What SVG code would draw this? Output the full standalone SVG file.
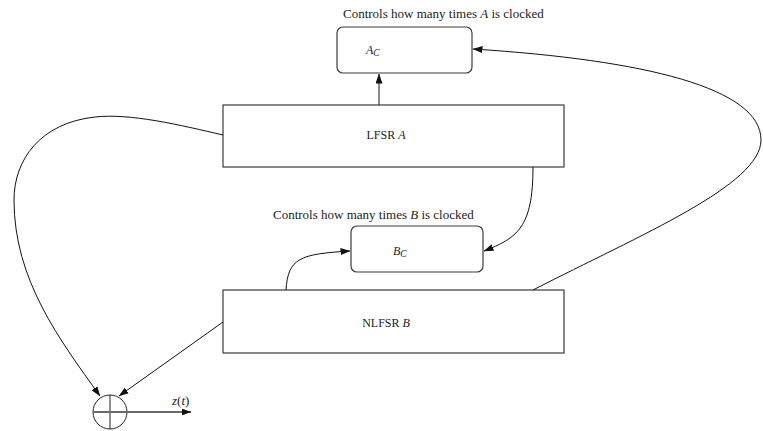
<svg xmlns="http://www.w3.org/2000/svg" width="763" height="431" viewBox="0 0 763 431">
  <style>
    .box { fill: #ffffff; stroke: #3a3a3a; stroke-width: 1.2; }
    .lbl { font-family: "Liberation Serif", "DejaVu Serif", serif; font-size: 12px; fill: #222222; }
    .cap { font-family: "Liberation Serif", "DejaVu Serif", serif; font-size: 13px; fill: #222222; }
    .it { font-style: italic; }
    .sub { font-size: 9.5px; font-style: italic; }
    .wire { fill: none; stroke: #111111; stroke-width: 1; }
  </style>
  <defs>
    <marker id="arrow" markerUnits="userSpaceOnUse" markerWidth="10" markerHeight="7" refX="9.5" refY="3.5" orient="auto">
      <path d="M0,0 L10,3.5 L0,7 Z" fill="#111111"/>
    </marker>
  </defs>

  <!-- captions -->
  <text class="cap" x="343" y="18">Controls how many times <tspan class="it">A</tspan> is clocked</text>
  <text class="cap" x="273" y="219">Controls how many times <tspan class="it">B</tspan> is clocked</text>

  <!-- A_C register -->
  <g id="node-ac">
    <rect class="box" x="337" y="27" width="135" height="46" rx="6" ry="6"/>
    <text class="lbl" x="366" y="54"><tspan class="it">A</tspan><tspan class="sub" dy="2">C</tspan></text>
  </g>

  <!-- LFSR A -->
  <g id="node-lfsr">
    <rect class="box" x="223" y="105" width="341" height="62"/>
    <text class="lbl" x="386" y="139" text-anchor="middle">LFSR <tspan class="it">A</tspan></text>
  </g>

  <!-- B_C register -->
  <g id="node-bc">
    <rect class="box" x="351" y="226" width="132" height="46" rx="6" ry="6"/>
    <text class="lbl" x="393" y="255"><tspan class="it">B</tspan><tspan class="sub" dy="2">C</tspan></text>
  </g>

  <!-- NLFSR B -->
  <g id="node-nlfsr">
    <rect class="box" x="223" y="290" width="341" height="63"/>
    <text class="lbl" x="386" y="327" text-anchor="middle">NLFSR <tspan class="it">B</tspan></text>
  </g>

  <!-- XOR combiner -->
  <g id="node-xor">
    <circle cx="110" cy="412" r="17" fill="#ffffff" stroke="#222222" stroke-width="1"/>
    <line x1="110" y1="395" x2="110" y2="429" stroke="#222222" stroke-width="1"/>
  </g>

  <!-- connectors -->
  <g id="connectors">
    <line class="wire" x1="379" y1="105" x2="379" y2="74" marker-end="url(#arrow)"/>
    <path class="wire" d="M533,167 C533,228 517,238 484,251" marker-end="url(#arrow)"/>
    <path class="wire" d="M286,290 C288,258 300,254 350,251" marker-end="url(#arrow)"/>
    <path class="wire" d="M533,290 C640,235 761,185 761,140 C761,88 645,60 473,49" marker-end="url(#arrow)"/>
    <path class="wire" d="M223,135 C180,125 130,113 95,117 C40,123 14,160 14,200 C14,280 60,340 100,396" marker-end="url(#arrow)"/>
    <line class="wire" x1="223" y1="322" x2="119" y2="396" marker-end="url(#arrow)"/>
    <line x1="93" y1="412" x2="191" y2="412" stroke="#6a6a6a" stroke-width="2" marker-end="url(#arrow)"/>
  </g>

  <text class="cap" x="172" y="405"><tspan class="it">z</tspan>(<tspan class="it">t</tspan>)</text>
</svg>
